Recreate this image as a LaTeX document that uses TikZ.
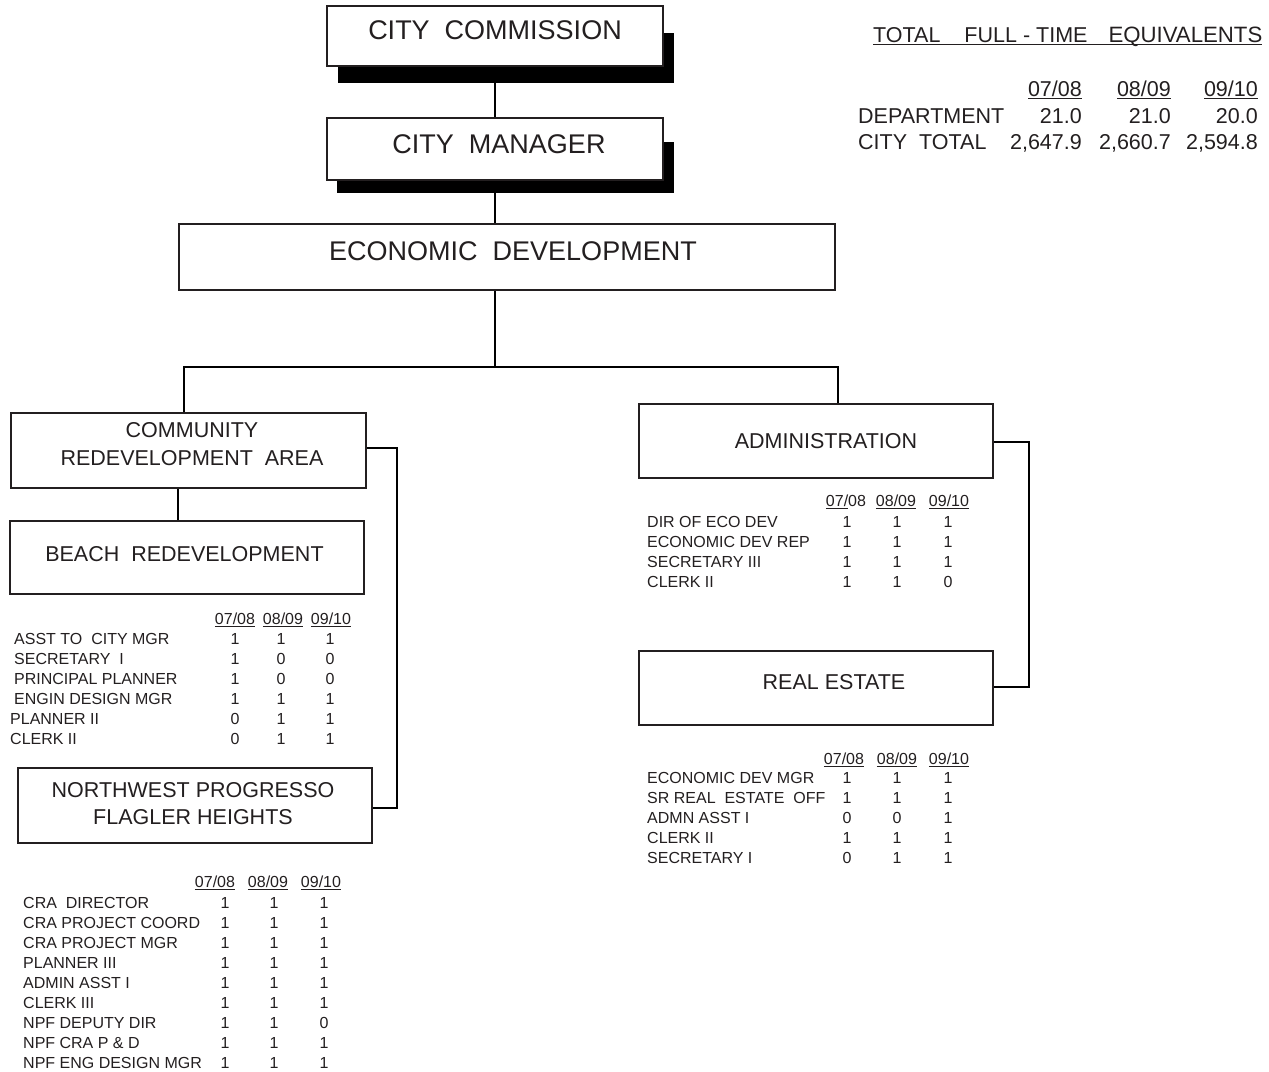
\documentclass[tikz,border=0pt]{standalone}
\usepackage{fontspec}
\setmainfont{Liberation Sans}
% underline drawn a little below the baseline
\newcommand{\uln}[1]{\setbox0\hbox{#1}\rlap{\rule[-2.9pt]{\wd0}{1.3pt}}\box0\relax}
\begin{document}
\begin{tikzpicture}[x=1pt,y=-1pt]
\definecolor{ink}{RGB}{35,31,32}
\tikzset{
  orgbox/.style={draw=ink, line width=2pt, fill=white, inner sep=0pt},
  link/.style={draw=black, line width=2pt},
  toptext/.style={font=\fontsize{27}{30}\selectfont, text=ink, inner sep=0pt},
  unittext/.style={font=\fontsize{21.5}{27.5}\selectfont, text=ink, inner sep=0pt, align=center},
  ftetext/.style={font=\fontsize{21.5}{26}\selectfont, text=ink, inner sep=0pt},
  cell/.style={font=\fontsize{16}{20}\selectfont, text=ink, inner sep=0pt},
}
\useasboundingbox (0,0) rectangle (1269,1071);

% drop shadows of the two top boxes
\fill[black] (338,33) rectangle (674,83);
\fill[black] (337,142) rectangle (674,193);

% boxes
\node[orgbox, minimum width=336, minimum height=60,
  label={[toptext, name=cc-t, yshift=6pt]center:CITY\ \ COMMISSION}] (cc) at (495,36) {};
\node[orgbox, minimum width=336, minimum height=62,
  label={[toptext, name=cm-t, xshift=4pt, yshift=4.5pt]center:CITY\ \ MANAGER}] (cm) at (495,149) {};
\node[orgbox, minimum width=656, minimum height=66,
  label={[toptext, name=eco-t, xshift=6pt, yshift=6pt]center:ECONOMIC\ \ DEVELOPMENT}] (eco) at (507,257) {};
\node[orgbox, minimum width=355, minimum height=75,
  label={[unittext, name=cra-t, xshift=3.5pt, yshift=6.5pt]center:COMMUNITY\\REDEVELOPMENT\ \ AREA}] (cra) at (188.5,450.5) {};
\node[orgbox, minimum width=354, minimum height=73,
  label={[unittext, name=beach-t, xshift=-2.5pt, yshift=3pt]center:BEACH\ \ REDEVELOPMENT}] (beach) at (187,557.5) {};
\node[orgbox, minimum width=354, minimum height=75,
  label={[unittext, name=nw-t, xshift=-2pt, yshift=2pt]center:NORTHWEST PROGRESSO\\FLAGLER HEIGHTS}] (nw) at (195,805.5) {};
\node[orgbox, minimum width=354, minimum height=74,
  label={[unittext, name=adm-t, xshift=10pt, yshift=-0.5pt]center:ADMINISTRATION}] (adm) at (816,441) {};
\node[orgbox, minimum width=354, minimum height=74,
  label={[unittext, name=re-t, xshift=18pt, yshift=5.5pt]center:REAL ESTATE}] (re) at (816,688) {};

% connectors
\coordinate (jm) at (495,367);
\coordinate (jl) at (184,367);
\coordinate (jr) at (838,367);
\coordinate (cb) at (178,500);
\coordinate (cx) at (397,448);
\coordinate (nx) at (397,808);
\coordinate (ax) at (1029,442);
\coordinate (rx) at (1029,687);
\draw[link] (cc.south) -- (cm.north);
\draw[link] (cm.south) -- (cm.south |- eco.north);
\draw[link] (jm |- eco.south) -- (jm);
\draw[link] (jl |- cra.north) -- (jl) -- (jr) -- (jr |- adm.north);
\draw[link] (cb |- cra.south) -- (cb |- beach.north);
\draw[link] (cx -| cra.east) -- (cx) -- (nx) -- (nx -| nw.east);
\draw[link] (ax -| adm.east) -- (ax) -- (rx) -- (rx -| re.east);

% full-time equivalents summary
\node[ftetext, anchor=base west] (fte) at (873,42)
  {\uln{TOTAL\hspace{24pt}FULL - TIME\hspace{21pt}\fontsize{22.2}{26}\selectfont EQUIVALENTS}};
\node[ftetext, anchor=base east] (fte-h1) at (1082,96) {\uln{07/08}};
\node[ftetext, anchor=base east] (fte-h2) at (1171,96) {\uln{08/09}};
\node[ftetext, anchor=base east] (fte-h3) at (1258,96) {\uln{09/10}};
\node[ftetext, anchor=base west] (fte-d) at (858,123.5) {DEPARTMENT};
\node[ftetext, anchor=base east] (fte-d1) at (1082,123.5) {21.0};
\node[ftetext, anchor=base east] (fte-d2) at (1171,123.5) {21.0};
\node[ftetext, anchor=base east] (fte-d3) at (1258,123.5) {20.0};
\node[ftetext, anchor=base west] (fte-c) at (858,149.5) {CITY\ \ TOTAL};
\node[ftetext, anchor=base east] (fte-c1) at (1082,149.5) {2,647.9};
\node[ftetext, anchor=base east] (fte-c2) at (1171,149.5) {2,660.7};
\node[ftetext, anchor=base east] (fte-c3) at (1258,149.5) {2,594.8};

% beach redevelopment positions
\node[cell, anchor=base] (bh1) at (235,624) {\uln{07/08}};
\node[cell, anchor=base] (bh2) at (283,624) {\uln{08/09}};
\node[cell, anchor=base] (bh3) at (331,624) {\uln{09/10}};
\foreach \lx/\lab/\a/\b/\c [count=\i from 0] in {
  14/ASST TO\ \ CITY MGR/1/1/1,
  14/SECRETARY\ \ I/1/0/0,
  14/PRINCIPAL PLANNER/1/0/0,
  14/ENGIN DESIGN MGR/1/1/1,
  10/PLANNER II/0/1/1,
  10/CLERK II/0/1/1}{
  \node[cell, anchor=base west] (bl\i) at (\lx,{644+20*\i}) {\lab};
  \node[cell, anchor=base] (ba\i) at (235,{644+20*\i}) {\a};
  \node[cell, anchor=base] (bb\i) at (281,{644+20*\i}) {\b};
  \node[cell, anchor=base] (bc\i) at (330,{644+20*\i}) {\c};
}

% northwest progresso / flagler heights positions
\node[cell, anchor=base] (nh1) at (215,887) {\uln{07/08}};
\node[cell, anchor=base] (nh2) at (268,887) {\uln{08/09}};
\node[cell, anchor=base] (nh3) at (321,887) {\uln{09/10}};
\foreach \lab/\a/\b/\c [count=\i from 0] in {
  CRA\ \ DIRECTOR/1/1/1,
  CRA PROJECT COORD/1/1/1,
  CRA PROJECT MGR/1/1/1,
  PLANNER III/1/1/1,
  ADMIN ASST I/1/1/1,
  CLERK III/1/1/1,
  NPF DEPUTY DIR/1/1/0,
  NPF CRA P \& D/1/1/1,
  NPF ENG DESIGN MGR/1/1/1}{
  \node[cell, anchor=base west] (nl\i) at (23,{908+20*\i}) {\lab};
  \node[cell, anchor=base] (na\i) at (225,{908+20*\i}) {\a};
  \node[cell, anchor=base] (nb\i) at (274,{908+20*\i}) {\b};
  \node[cell, anchor=base] (nc\i) at (324,{908+20*\i}) {\c};
}

% administration positions
\node[cell, anchor=base] (ah1) at (846,506) {\uln{07/}08};
\node[cell, anchor=base] (ah2) at (896,506) {\uln{08/09}};
\node[cell, anchor=base] (ah3) at (949,506) {\uln{09/10}};
\foreach \lab/\a/\b/\c [count=\i from 0] in {
  DIR OF ECO DEV/1/1/1,
  ECONOMIC DEV REP/1/1/1,
  SECRETARY III/1/1/1,
  CLERK II/1/1/0}{
  \node[cell, anchor=base west] (al\i) at (647,{527+20*\i}) {\lab};
  \node[cell, anchor=base] (aa\i) at (847,{527+20*\i}) {\a};
  \node[cell, anchor=base] (ab\i) at (897,{527+20*\i}) {\b};
  \node[cell, anchor=base] (ac\i) at (948,{527+20*\i}) {\c};
}

% real estate positions
\node[cell, anchor=base] (rh1) at (844,764) {\uln{07/08}};
\node[cell, anchor=base] (rh2) at (897,764) {\uln{08/09}};
\node[cell, anchor=base] (rh3) at (949,764) {\uln{09/10}};
\foreach \lab/\a/\b/\c [count=\i from 0] in {
  ECONOMIC DEV MGR/1/1/1,
  SR REAL\ \ ESTATE\ \ OFF/1/1/1,
  ADMN ASST I/0/0/1,
  CLERK II/1/1/1,
  SECRETARY I/0/1/1}{
  \node[cell, anchor=base west] (rl\i) at (647,{783+20*\i}) {\lab};
  \node[cell, anchor=base] (ra\i) at (847,{783+20*\i}) {\a};
  \node[cell, anchor=base] (rb\i) at (897,{783+20*\i}) {\b};
  \node[cell, anchor=base] (rc\i) at (948,{783+20*\i}) {\c};
}
\end{tikzpicture}
\end{document}
